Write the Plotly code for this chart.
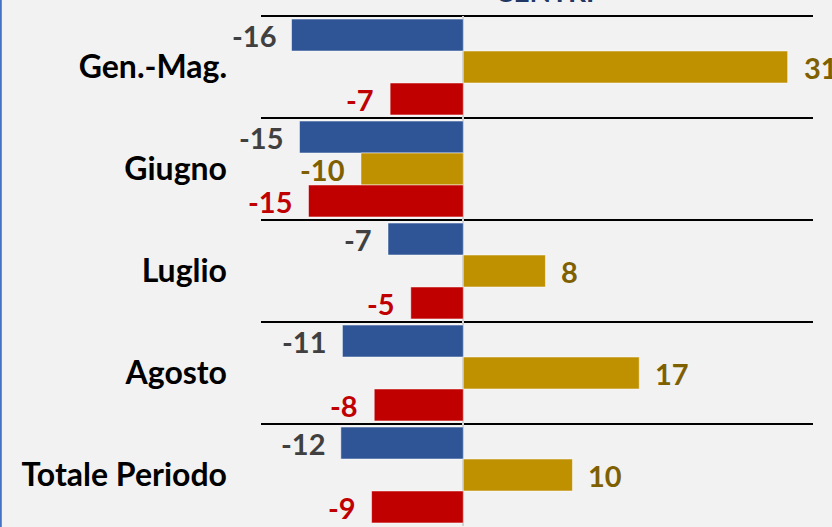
import plotly.graph_objects as go

categories = ["Gen.-Mag.", "Giugno", "Luglio", "Agosto", "Totale Periodo"]
series_names = ["Serie 1", "Serie 2", "Serie 3"]
blue_vals = [-16.2, -15.45, -7.1, -11.4, -11.55]
gold_vals = [30.6, -9.65, 7.75, 16.6, 10.3]
red_vals = [-6.9, -14.6, -4.95, -8.4, -8.65]
title_text = "CENTRI"

bar_colors = ["#2F5597", "#BF9000", "#C00000"]
label_colors = ["#404040", "#7F6000", "#C00000"]
FONT = "Lato, 'Open Sans', sans-serif"

W, H = 832, 527
ML, MR, MT, MB = 261, 19, 16, 1
plot_w = W - ML - MR

fig = go.Figure()
all_vals = [blue_vals, gold_vals, red_vals]
for name, vals, col in zip(series_names, all_vals, bar_colors):
    fig.add_trace(go.Bar(
        y=categories, x=vals, orientation="h", name=name,
        marker=dict(color=col, line=dict(color="rgba(255,255,255,0.5)", width=1)),
        hoverinfo="skip",
    ))

annotations = []
shifts = [32, 0, -32]
for vals, lc, ys in zip(all_vals, label_colors, shifts):
    for cat, v in zip(categories, vals):
        annotations.append(dict(
            x=v, y=cat, xref="x", yref="y", text=f"{v:.0f}", showarrow=False,
            xanchor="right" if v < 0 else "left",
            xshift=-14 if v < 0 else 14, yshift=ys,
            font=dict(family=FONT, size=29, color=lc, weight="bold"),
        ))

annotations.append(dict(
    x=(544 - ML) / plot_w, y=1, xref="paper", yref="paper", text=title_text,
    showarrow=False, xanchor="center", yanchor="bottom", yshift=6,
    font=dict(family=FONT, size=28, color="#1F3864", weight="bold"),
))

fig.update_layout(
    width=W, height=H,
    margin=dict(l=ML, r=MR, t=MT, b=MB, pad=0),
    paper_bgcolor="#F2F2F2", plot_bgcolor="#F2F2F2",
    barmode="group", bargap=0.06, bargroupgap=0,
    showlegend=False,
    annotations=annotations,
    xaxis=dict(range=[-19.08, 32.99], showticklabels=False, showgrid=False,
               zeroline=True, zerolinecolor="#D0D0D0", zerolinewidth=2,
               fixedrange=True),
    yaxis=dict(autorange=False, range=[4.5, -0.5], type="category",
               tickson="boundaries", showgrid=True, gridcolor="#000000", gridwidth=2,
               ticks="", ticklabelstandoff=33, showline=False, zeroline=False,
               automargin=False,
               tickfont=dict(family=FONT, size=32, color="#000000", weight="bold")),
    shapes=[
        dict(type="line", xref="paper", yref="paper",
             x0=(0.8 - ML) / plot_w, x1=(0.8 - ML) / plot_w, y0=-0.1, y1=1.1,
             line=dict(color="#4472C4", width=2)),
        dict(type="line", xref="paper", yref="paper", layer="below",
             x0=0, x1=1, y0=1, y1=1, line=dict(color="#000000", width=2)),
    ],
)

fig.write_html("out.html", config={"displayModeBar": False},
               post_script="document.body.style.margin='0';document.body.style.overflow='hidden';")
